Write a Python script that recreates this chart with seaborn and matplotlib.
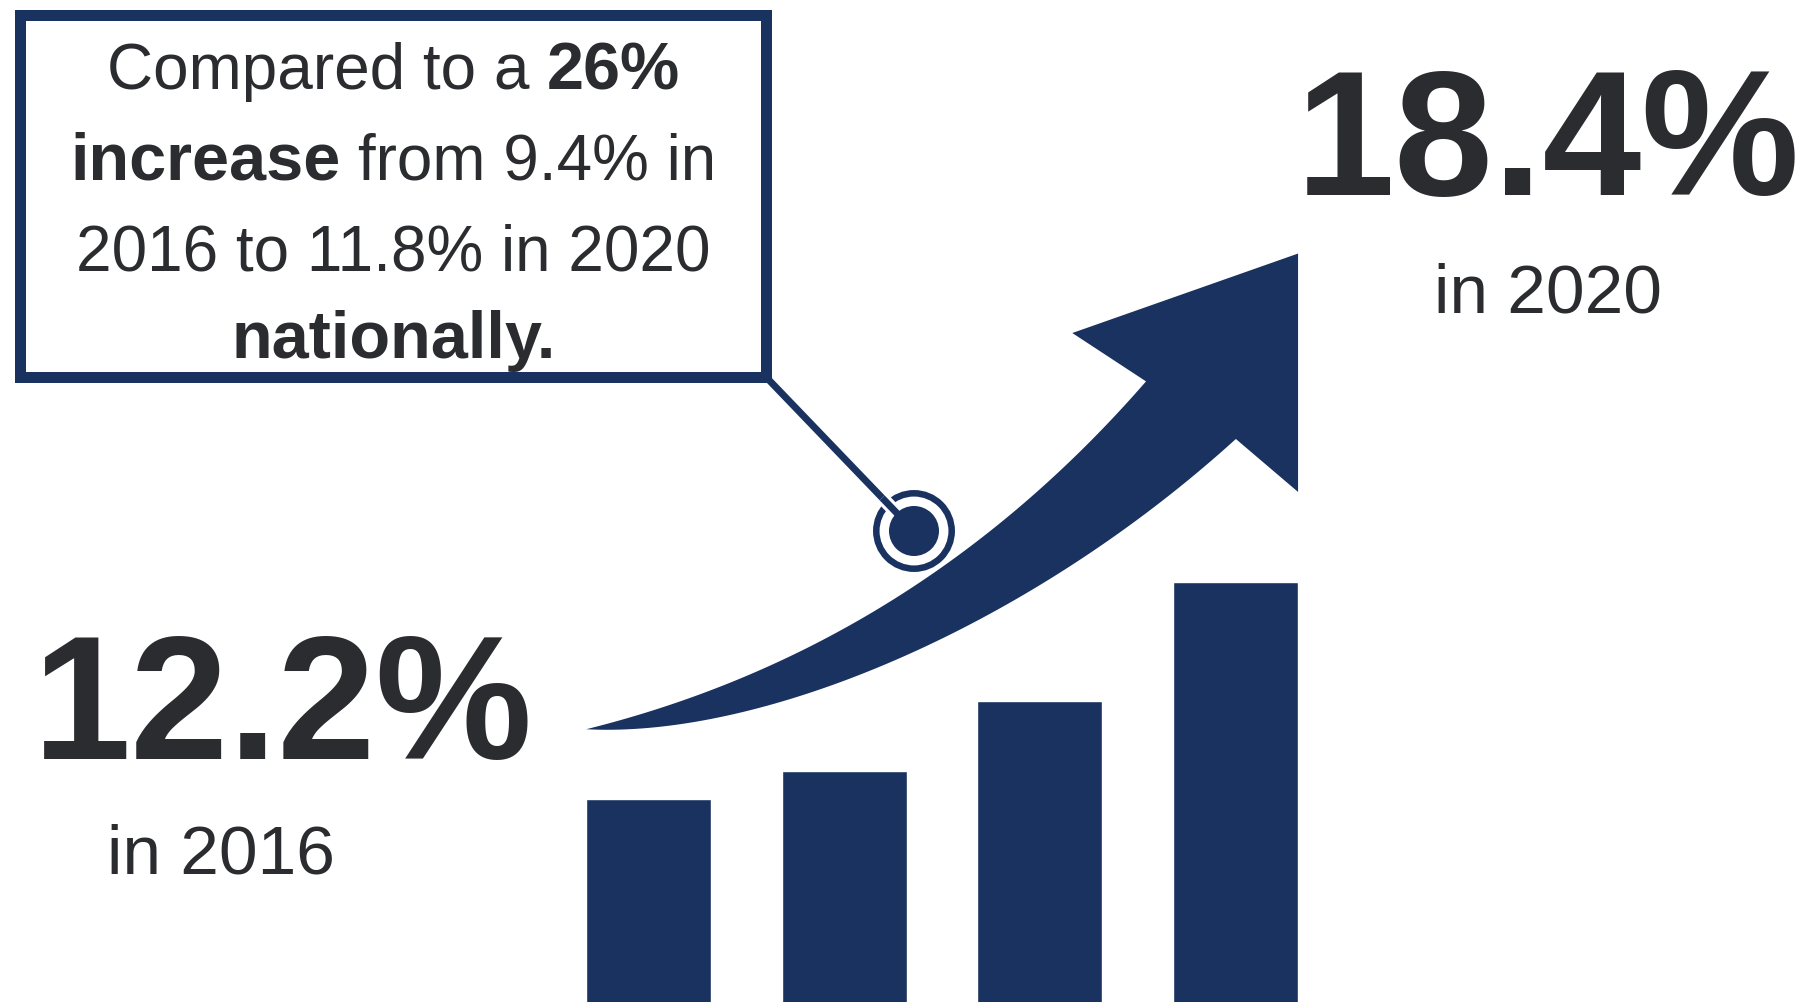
import numpy as np
import pandas as pd
import matplotlib
matplotlib.use("Agg")
import matplotlib.pyplot as plt
import matplotlib.patheffects as pe
import seaborn as sns
from matplotlib.patches import Rectangle, Circle, Polygon

# ---------------- data ----------------
years = ["2016", "2017", "2018", "2020"]
rate = [12.2, 13.0, 15.0, 18.4]
start_label = "12.2%"
start_year = "in 2016"
end_label = "18.4%"
end_year = "in 2020"
box_lines = [
    [("Compared to a", False), ("26%", True)],
    [("increase", True), ("from 9.4% in", False)],
    [("2016 to 11.8% in 2020", False)],
    [("nationally.", True)],
]

NAVY = "#1A3260"
TEXT = "#2B2C30"
W, H = 1806, 1003

sns.set_theme(style="white")
plt.rcParams["font.family"] = ["Liberation Sans", "DejaVu Sans"]

fig = plt.figure(figsize=(W / 100, H / 100), dpi=100)
fig.patch.set_facecolor("white")

# ---------------- bars (seaborn) ----------------
axb = fig.add_axes([586 / W, 0, 712 / W, 420 / H])
df = pd.DataFrame({"year": years, "rate": rate})
sns.barplot(data=df, x="year", y="rate", color=NAVY, saturation=1, width=0.64, ax=axb)
axb.set_xlim(-0.32, 3.32)
axb.set_ylim(6.4, 18.4)
axb.axis("off")

# ---------------- overlay in pixel space ----------------
ov = fig.add_axes([0, 0, 1, 1], zorder=-1)
ov.set_xlim(0, W)
ov.set_ylim(H, 0)
ov.axis("off")
ov.patch.set_alpha(0)

S = W / 1568.0


def qbez(p0, p1, p2, n=80):
    t = np.linspace(0, 1, n)[:, None]
    p0, p1, p2 = map(np.asarray, (p0, p1, p2))
    return (1 - t) ** 2 * p0 + 2 * (1 - t) * t * p1 + t ** 2 * p2


def cbez(p0, p1, p2, p3, n=80):
    t = np.linspace(0, 1, n)[:, None]
    p0, p1, p2, p3 = map(np.asarray, (p0, p1, p2, p3))
    return ((1 - t) ** 3 * p0 + 3 * (1 - t) ** 2 * t * p1
            + 3 * (1 - t) * t ** 2 * p2 + t ** 3 * p3)


upper = qbez((509, 634), (794, 563), (995, 332))
lower = cbez((509, 634), (660, 642), (890, 548), (1073, 382))
head = np.array([(931, 290), (1127, 221), (1127, 428)])
pts = np.vstack([upper, head, lower[::-1]]) * S
ov.add_patch(Polygon(pts, closed=True, facecolor=NAVY, edgecolor="none"))

# callout box
lw_box_px = 11
ov.add_patch(Rectangle((15 + lw_box_px / 2, 10 + lw_box_px / 2),
                       772 - 15 - lw_box_px, 383 - 10 - lw_box_px,
                       facecolor="white", edgecolor=NAVY,
                       linewidth=lw_box_px * 0.72, joinstyle="miter", zorder=3))
# connector with target marker
cx, cy = 914, 532
x0, y0 = 767, 379
ov.plot([x0, cx], [y0, cy], color=NAVY, lw=5.0, solid_capstyle="butt", zorder=2)
ov.add_patch(Circle((cx, cy), 37.7, facecolor="white", edgecolor=NAVY, lw=4.7, zorder=4))
ov.add_patch(Circle((cx, cy), 25, facecolor=NAVY, edgecolor="none", zorder=5))
d = np.array([x0 - cx, y0 - cy]) / np.hypot(x0 - cx, y0 - cy)
p_out = np.array([cx, cy]) + d * 46
p_in = np.array([cx, cy]) + d * 22
ov.plot([p_out[0], p_in[0]], [p_out[1], p_in[1]], color=NAVY, lw=5.0,
        solid_capstyle="butt", zorder=4.5,
        path_effects=[pe.Stroke(linewidth=9.5, foreground="white"), pe.Normal()])

# ---------------- texts ----------------
ov.text(283, 759, start_label, ha="center", va="baseline", fontsize=127,
        fontweight="bold", color=TEXT)
ov.text(221, 874, start_year, ha="center", va="baseline", fontsize=50, color=TEXT)
ov.text(1548, 195, end_label, ha="center", va="baseline", fontsize=128,
        fontweight="bold", color=TEXT)
ov.text(1548, 312, end_year, ha="center", va="baseline", fontsize=50, color=TEXT)

renderer = fig.canvas.get_renderer()
FS_REG = 46
FS_BOLD = 48


def width_of(s, bold):
    t = ov.text(0, 0, s, fontsize=FS_BOLD if bold else FS_REG,
                fontweight="bold" if bold else "normal")
    w = t.get_window_extent(renderer).width
    t.remove()
    return w


space_w = width_of("a a", False) - width_of("aa", False)
box_cx = (15 + 772) / 2
baselines = [89, 179, 270, 358]
for segs, yb in zip(box_lines, baselines):
    widths = [width_of(s, b) for s, b in segs]
    total = sum(widths) + space_w * (len(segs) - 1)
    x = box_cx - total / 2
    for (s, b), w in zip(segs, widths):
        ov.text(x, yb, s, ha="left", va="baseline",
                fontsize=FS_BOLD if b else FS_REG,
                fontweight="bold" if b else "normal", color=TEXT, zorder=6)
        x += w + space_w

fig.savefig("out.png", dpi=100, facecolor="white")
